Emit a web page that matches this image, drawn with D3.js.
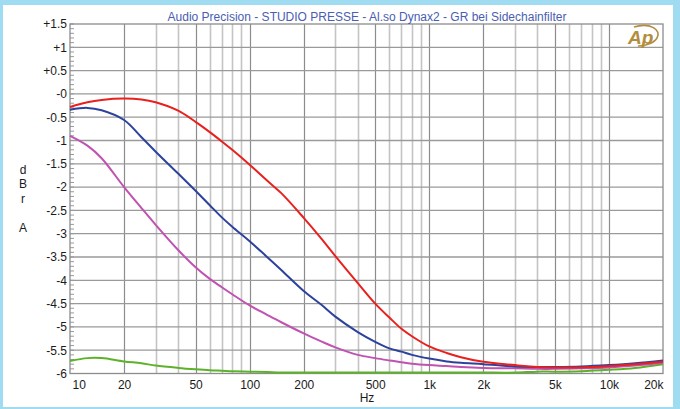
<!DOCTYPE html>
<html>
<head>
<meta charset="utf-8">
<script src="https://cdn.jsdelivr.net/npm/d3@7"></script>
<style>
  body { margin: 0; padding: 0; background: #9fdcf2; }
  svg { display: block; font-family: "Liberation Sans", Arial, sans-serif; }
</style>
</head>
<body>
<div id="chart"></div>
<script>
// frequencies (Hz) the curves were read at
var freqs = [10, 12.5, 15, 20, 25, 30, 40, 50, 60, 70, 80, 100, 125, 150, 200, 250, 300, 400, 500, 600, 700, 800, 1000, 1250, 1500, 2000, 3000, 4000, 5000, 7000, 10000, 14000, 20000];

// gain reduction in dBr per sidechain filter setting
var red = [-0.28, -0.18, -0.13, -0.1, -0.12, -0.18, -0.36, -0.6, -0.82, -1.02, -1.2, -1.52, -1.86, -2.13, -2.66, -3.1, -3.48, -4.06, -4.5, -4.8, -5.04, -5.2, -5.42, -5.56, -5.65, -5.75, -5.82, -5.86, -5.87, -5.87, -5.84, -5.8, -5.75];
var blue = [-0.34, -0.3, -0.35, -0.56, -0.93, -1.24, -1.71, -2.08, -2.39, -2.65, -2.85, -3.16, -3.5, -3.78, -4.23, -4.52, -4.78, -5.11, -5.32, -5.46, -5.53, -5.6, -5.68, -5.74, -5.77, -5.8, -5.85, -5.86, -5.86, -5.85, -5.82, -5.78, -5.72];
var magenta = [-0.9, -1.11, -1.38, -2.0, -2.45, -2.81, -3.35, -3.72, -3.97, -4.15, -4.3, -4.54, -4.74, -4.9, -5.14, -5.31, -5.44, -5.6, -5.67, -5.72, -5.76, -5.79, -5.82, -5.84, -5.86, -5.88, -5.89, -5.9, -5.9, -5.89, -5.87, -5.83, -5.77];
var green = [-5.73, -5.67, -5.67, -5.74, -5.78, -5.83, -5.88, -5.91, -5.93, -5.94, -5.95, -5.96, -5.97, -5.98, -5.98, -5.98, -5.98, -5.98, -5.98, -5.98, -5.98, -5.98, -5.98, -5.98, -5.98, -5.98, -5.98, -5.96, -5.96, -5.95, -5.92, -5.88, -5.8];

var xTicks = [10, 20, 50, 100, 200, 500, 1000, 2000, 5000, 10000, 20000];
var xLabels = ["10", "20", "50", "100", "200", "500", "1k", "2k", "5k", "10k", "20k"];
var yTicks = [1.5, 1, 0.5, 0, -0.5, -1, -1.5, -2, -2.5, -3, -3.5, -4, -4.5, -5, -5.5, -6];
var yLabels = ["+1.5", "+1", "+0.5", "-0", "-0.5", "-1", "-1.5", "-2", "-2.5", "-3", "-3.5", "-4", "-4.5", "-5", "-5.5", "-6"];

var title = "Audio Precision - STUDIO PRESSE - Al.so Dynax2 - GR bei Sidechainfilter";

var width = 680;
var height = 409;
// plot box (note: "top" is taken by window.top)
var pLeft = 70, pRight = 663, pTop = 24, pBottom = 373.5;

var svg = d3
  .select("#chart")
  .append("svg")
  .attr("width", width)
  .attr("height", height);

// light blue frame + white page
svg.append("rect")
  .attr("width", width)
  .attr("height", height)
  .attr("fill", "#9fdcf2");
svg.append("rect")
  .attr("x", 3)
  .attr("y", 5)
  .attr("width", 670)
  .attr("height", 402)
  .attr("fill", "#ffffff");

var x = d3.scaleLog().domain([10, 20000]).range([pLeft, pRight]);
var y = d3.scaleLinear().domain([-6, 1.5]).range([pBottom, pTop]);

// vertical grid, 1-2-5 darker
var vLines = [];
[10, 100, 1000, 10000].forEach(function(dec) {
  for (var m = 1; m <= 9; m++) {
    var f = dec * m;
    if (f > 10 && f < 20000) vLines.push({ f: f, major: m == 1 || m == 2 || m == 5 });
  }
});

svg.append("g")
  .selectAll("line")
  .data(vLines)
  .enter()
  .append("line")
  .attr("x1", d => Math.round(x(d.f)) + 0.5)
  .attr("x2", d => Math.round(x(d.f)) + 0.5)
  .attr("y1", pTop)
  .attr("y2", pBottom)
  .attr("stroke", d => d.major ? "#8c8c8c" : "#c4c4c4")
  .attr("stroke-width", d => d.major ? 1.2 : 1.6);

svg.append("g")
  .selectAll("line")
  .data(yTicks.slice(1, -1))
  .enter()
  .append("line")
  .attr("x1", pLeft)
  .attr("x2", pRight)
  .attr("y1", d => y(d))
  .attr("y2", d => y(d))
  .attr("stroke", "#9a9a9a")
  .attr("stroke-width", 1.3);

// small ticks every 0.1 dB
svg.append("g")
  .selectAll("line")
  .data(d3.range(-60, 16).map(d => d / 10))
  .enter()
  .append("line")
  .attr("x1", pLeft)
  .attr("x2", pLeft + 4)
  .attr("y1", d => y(d))
  .attr("y2", d => y(d))
  .attr("stroke", "#999")
  .attr("stroke-width", 1);

svg.append("rect")
  .attr("x", pLeft)
  .attr("y", pTop)
  .attr("width", pRight - pLeft)
  .attr("height", pBottom - pTop)
  .attr("fill", "none")
  .attr("stroke", "#8c8c8c")
  .attr("stroke-width", 1.3);

// curves
var line = d3
  .line()
  .x((d, i) => x(freqs[i]))
  .y(d => y(d))
  .curve(d3.curveCatmullRom.alpha(0.5));

var series = [
  { values: green, color: "#5cb32a" },
  { values: magenta, color: "#c052b2" },
  { values: blue, color: "#2d429c" },
  { values: red, color: "#e8201e" }
];

svg.append("g")
  .selectAll("path")
  .data(series)
  .enter()
  .append("path")
  .attr("d", d => line(d.values))
  .attr("fill", "none")
  .attr("stroke", d => d.color)
  .attr("stroke-width", 2);

// axes labels
var yAxis = d3
  .axisLeft(y)
  .tickValues(yTicks)
  .tickSize(0)
  .tickPadding(3)
  .tickFormat((d, i) => yLabels[i]);

svg.append("g")
  .attr("transform", "translate(" + pLeft + ",0)")
  .call(yAxis)
  .call(g => g.select(".domain").remove())
  .selectAll("text")
  .attr("font-size", 12)
  .attr("font-family", "Liberation Sans, Arial, sans-serif")
  .attr("fill", "#1a1a1a");

var xAxis = d3
  .axisBottom(x)
  .tickValues(xTicks)
  .tickSize(0)
  .tickPadding(7)
  .tickFormat((d, i) => xLabels[i]);

var xg = svg.append("g")
  .attr("transform", "translate(0," + pBottom + ")")
  .call(xAxis)
  .call(g => g.select(".domain").remove());

xg.selectAll("text")
  .attr("font-size", 12)
  .attr("font-family", "Liberation Sans, Arial, sans-serif")
  .attr("fill", "#1a1a1a")
  .attr("text-anchor", (d, i) => i == 0 ? "start" : i == xTicks.length - 1 ? "end" : "middle")
  .attr("dx", (d, i) => i == 0 ? 2 : 0);

svg.append("text")
  .attr("x", 367)
  .attr("y", 402)
  .attr("text-anchor", "middle")
  .attr("font-size", 12)
  .attr("fill", "#1a1a1a")
  .text("Hz");

// dBr A, stacked letters
var unitLetters = [["d", 174], ["B", 188], ["r", 203], ["A", 232]];
svg.append("g")
  .selectAll("text")
  .data(unitLetters)
  .enter()
  .append("text")
  .attr("x", 23)
  .attr("y", d => d[1])
  .attr("text-anchor", "middle")
  .attr("font-size", 12)
  .attr("fill", "#1a1a1a")
  .text(d => d[0]);

svg.append("text")
  .attr("x", 367)
  .attr("y", 20.5)
  .attr("text-anchor", "middle")
  .attr("font-size", 12)
  .attr("fill", "#4a5db2")
  .text(title);

// Ap logo
var logo = svg.append("g").attr("transform", "translate(628,44)");
logo.append("text")
  .attr("x", 0)
  .attr("y", 0)
  .attr("font-size", 19)
  .attr("font-style", "italic")
  .attr("font-weight", "bold")
  .attr("fill", "#b38d3e")
  .text("Ap");
logo.append("path")
  .attr("d", "M6,-17 C22,-22 34,-14 29,-6 C26,-1 18,2 10,2")
  .attr("fill", "none")
  .attr("stroke", "#b38d3e")
  .attr("stroke-width", 1.6);
</script>
</body>
</html>
